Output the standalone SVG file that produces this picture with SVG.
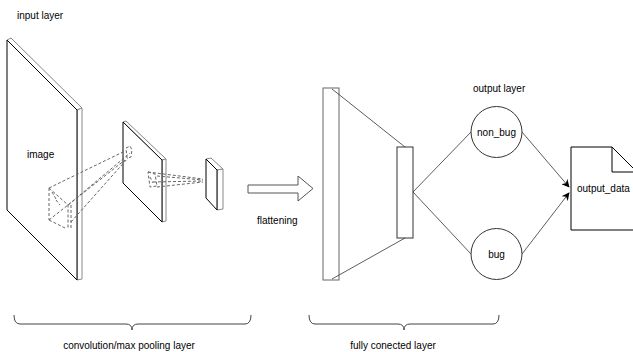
<svg xmlns="http://www.w3.org/2000/svg" width="633" height="352" viewBox="0 0 633 352">
<style>
text{font-family:"Liberation Sans",Arial,sans-serif;font-size:10px;fill:#000}
.face{fill:#fff;stroke:#000;stroke-width:1}
.edge{fill:#fff;stroke:#888;stroke-width:1}
.dash{fill:none;stroke:#666;stroke-width:1;stroke-dasharray:3 2}
.ln{fill:none;stroke:#333;stroke-width:0.8}
.brace{fill:none;stroke:#444;stroke-width:1}
</style>
<defs>
<marker id="ah" viewBox="0 0 10 10" refX="9" refY="5" markerWidth="8" markerHeight="8" orient="auto" markerUnits="userSpaceOnUse">
<path d="M0,0 L10,5 L0,10 L3,5 Z" fill="#000"/>
</marker>
</defs>
<rect width="633" height="352" fill="#fff"/>

<g id="labels">
<text x="17" y="19">input layer</text>
<text x="257" y="224">flattening</text>
<text x="473" y="92">output layer</text>
<text x="129" y="349" text-anchor="middle">convolution/max pooling layer</text>
<text x="393" y="349" text-anchor="middle">fully conected layer</text>
</g>

<g id="input-plate">
<polygon class="edge" points="7,40 11,38 82,108 77,110"/>
<polygon class="edge" points="77,110 82,108 82,279 77,280"/>
<polygon class="face" points="7,40 77,110 77,280 7,210"/>
<text x="27" y="158">image</text>
</g>

<g id="conv-plate">
<polygon class="edge" points="123,122 126,121 166,159 162,160"/>
<polygon class="edge" points="162,160 166,159 166,221 162,222"/>
<polygon class="face" points="123,122 162,160 162,222 123,183"/>
</g>

<g id="pool-plate">
<polygon class="edge" points="206,159 211,158 223,169 217,170"/>
<polygon class="edge" points="217,170 223,169 223,209 217,210"/>
<polygon class="face" points="206,159 217,170 217,210 206,198"/>
</g>

<g id="receptive-fields">
<path class="dash" d="M49,188 L49,220 M49,188 L68,205 L68,228 M49,220 L65,228 M71,205 L71,229 M52,192 L56,199 M56,200 L60,205"/>
<path class="dash" d="M49,188 L125,151 M68,205 L130,153 M49,220 L125,160 M71,222 L128,158"/>
<path class="dash" d="M126,148 L130,146 L132,150 L131,157 L127,158 Z"/>
<path class="dash" d="M148,172 L155,174 L157,186 L150,187 Z M150,177 L153,183"/>
<path class="dash" d="M148,172 L203,179 M157,176 L203,180 M153,182 L203,181 M157,187 L203,182"/>
</g>

<g id="flatten-arrow">
<polygon points="248,185 298,185 298,176 313,188.5 298,201 298,193 248,193" fill="#fff" stroke="#555" stroke-width="1"/>
</g>

<g id="fc-input">
<rect x="323" y="88" width="16" height="192" fill="#fff" stroke="#666" stroke-width="1"/>
</g>
<g id="fc-hidden">
<rect x="397" y="147" width="16" height="91" fill="#fff" stroke="#333" stroke-width="1"/>
</g>

<g id="connectors">
<line class="ln" x1="332" y1="89" x2="405" y2="147"/>
<line class="ln" x1="332" y1="279" x2="405" y2="238"/>
<line class="ln" x1="413" y1="192" x2="471" y2="132"/>
<line class="ln" x1="413" y1="192" x2="471" y2="254"/>
<line class="ln" x1="522" y1="132" x2="569" y2="187" marker-end="url(#ah)"/>
<line class="ln" x1="522" y1="254" x2="569" y2="193" marker-end="url(#ah)"/>
</g>

<g id="non_bug">
<circle cx="496.5" cy="132" r="25.5" fill="#fff" stroke="#333" stroke-width="1"/>
<text x="496.5" y="135.5" text-anchor="middle">non_bug</text>
</g>
<g id="bug">
<circle cx="496.5" cy="254" r="25.5" fill="#fff" stroke="#333" stroke-width="1"/>
<text x="496.5" y="258" text-anchor="middle">bug</text>
</g>

<g id="output_data">
<path d="M571,147 L612,147 L637,172 L637,230 L571,230 Z" fill="#fff" stroke="#000" stroke-width="1"/>
<path d="M612,147 L612,172 L637,172" fill="none" stroke="#000" stroke-width="1"/>
<text x="577" y="191.5">output_data</text>
</g>

<g id="braces">
<path class="brace" d="M14,315 Q14,324 20,324 L126,324 Q132,324 132,330 Q132,324 138,324 L245,324 Q251,324 251,315"/>
<path class="brace" d="M309,315 Q309,324 315,324 L398,324 Q404,324 404,330 Q404,324 410,324 L493,324 Q499,324 499,315"/>
</g>
</svg>
